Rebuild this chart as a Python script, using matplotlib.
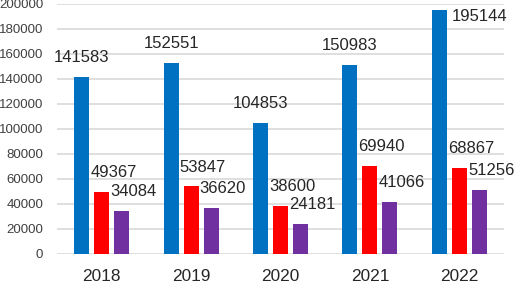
import matplotlib
matplotlib.use("Agg")
import matplotlib.pyplot as plt
import numpy as np

years = ["2018", "2019", "2020", "2021", "2022"]
blue_vals = [141583, 152551, 104853, 150983, 195144]
red_vals = [49367, 53847, 38600, 69940, 68867]
purple_vals = [34084, 36620, 24181, 41066, 51256]

series = [blue_vals, red_vals, purple_vals]
colors = ["#0070C0", "#FF0000", "#7030A0"]
label_dx = [0, 8.5, 8.5]  # points, label shift to the right of bar centre

plt.rcParams["font.family"] = ["Liberation Sans", "DejaVu Sans"]

fig = plt.figure(figsize=(5.14, 2.84), dpi=100)
ax = fig.add_axes([0.1109, 0.1067, 0.8696, 0.8793])

x = np.arange(len(years))
width = 0.168
step = 0.224
ymax = 200000

for i, (vals, col) in enumerate(zip(series, colors)):
    pos = x + (i - 1) * step
    ax.bar(pos, vals, width=width, color=col, zorder=3)
    for p, v in zip(pos, vals):
        if v > 0.93 * ymax:
            # no room above: put the label at the right of the bar
            ax.annotate(str(v), (p + width / 2, v), xytext=(3.3, -4.5),
                        textcoords="offset points", ha="left", va="center",
                        fontsize=12, color="#262626", zorder=2)
        else:
            ax.annotate(str(v), (p, v), xytext=(label_dx[i], 14),
                        textcoords="offset points", ha="center", va="center",
                        fontsize=12, color="#262626", zorder=2)

ax.set_xlim(-0.5, len(years) - 0.5)
ax.set_ylim(0, ymax)
ax.set_yticks(np.arange(0, ymax + 1, 20000))
ax.set_xticks(x)
ax.set_xticklabels(years)
ax.yaxis.grid(True, color="#D9D9D9", linewidth=1.2, zorder=0)
ax.set_axisbelow(True)
for s in ax.spines.values():
    s.set_visible(False)
ax.tick_params(axis="y", length=0, pad=10, labelsize=9.5, labelcolor="#404040")
ax.tick_params(axis="x", length=0, pad=11, labelsize=12.4, labelcolor="#262626")

fig.savefig("out.png", dpi=100)
